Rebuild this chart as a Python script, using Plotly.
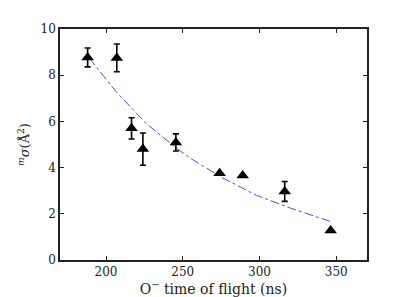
import plotly.graph_objects as go

tof_ns = [188, 207, 216.6, 224, 245.5, 274, 289, 316.4, 346.3]
sigma = [8.77, 8.75, 5.70, 4.80, 5.09, 3.76, 3.66, 2.97, 1.28]
sigma_err = [0.41, 0.60, 0.46, 0.70, 0.37, 0.0, 0.0, 0.43, 0.0]

fit_x = [189, 207, 226, 246, 256, 276, 298, 320, 347]
fit_y = [8.74, 7.25, 5.92, 4.83, 4.36, 3.55, 2.80, 2.25, 1.65]

x_ticks = [200, 250, 300, 350]
y_ticks = [0, 2, 4, 6, 8, 10]

font = "DejaVu Serif"

fig = go.Figure()
fig.add_trace(go.Scatter(
    x=fit_x, y=fit_y, mode="lines",
    line=dict(color="#4a4aff", width=1, dash="dashdot"),
    showlegend=False, hoverinfo="skip"))
fig.add_trace(go.Scatter(
    x=tof_ns, y=sigma, mode="markers",
    marker=dict(symbol="triangle-up", size=11, color="black"),
    error_y=dict(type="data", array=sigma_err, visible=True,
                 color="black", thickness=1.6, width=3),
    showlegend=False))

axis_common = dict(
    showline=True, linecolor="#222", linewidth=1.5, mirror="ticks",
    ticks="inside", ticklen=4, tickwidth=1.3, tickcolor="#222",
    showgrid=False, zeroline=False,
    tickfont=dict(family=font, size=12, color="#222"))

fig.update_xaxes(range=[170, 370], tickvals=x_ticks,
                 title=dict(text="O<sup>−</sup> time of flight (ns)",
                            font=dict(family=font, size=14, color="#222"),
                            standoff=4),
                 **axis_common)
fig.update_yaxes(range=[0, 10], tickvals=y_ticks,
                 title=dict(text="<i><sup>m</sup>σ</i>(Å<sup>2</sup>)",
                            font=dict(family=font, size=13, color="#222"),
                            standoff=8),
                 **axis_common)

fig.update_layout(
    width=397, height=297,
    margin=dict(l=52, r=38, t=21, b=39),
    font=dict(family=font),
    plot_bgcolor="white", paper_bgcolor="white")

fig.write_html("out.html")
